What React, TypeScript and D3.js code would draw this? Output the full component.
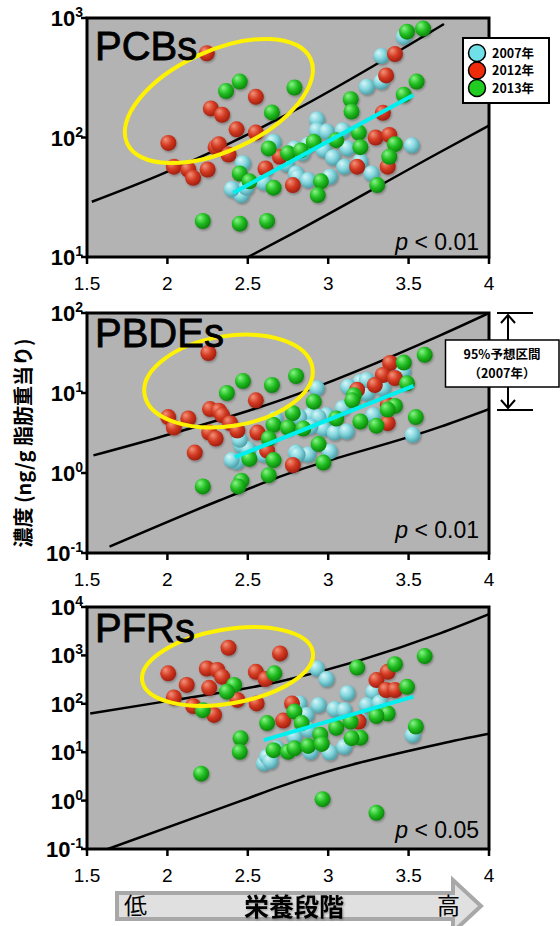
import React from 'react';
import * as d3 from 'd3';

type Pt = [number, number];

// trophic level ticks
const xTicks = [1.5, 2, 2.5, 3, 3.5, 4];
const years = ['2007年', '2012年', '2013年'];

// ---- PCBs (ng/g lipid) ----
const pcbTicks = [10, 100, 1000];
const pcb2007: Pt[] = [
  [2.66, 92], [2.47, 61], [2.42, 36], [2.46, 33], [2.49, 38], [2.40, 37], [2.60, 42], [2.74, 60],
  [2.79, 81], [2.80, 50], [3.47, 695], [3.33, 480], [3.24, 266], [3.33, 294], [2.93, 142], [2.93, 115],
  [2.99, 112], [3.09, 115], [3.12, 81], [2.97, 79], [2.875, 87], [3.03, 68], [3.10, 57], [3.20, 63],
  [3.27, 50], [3.52, 86], [2.81, 47], [2.875, 44], [3.01, 47], [2.84, 74],
];
const pcb2012: Pt[] = [
  [2.245, 507], [2.55, 219], [2.27, 175], [2.34, 155], [2.43, 117], [2.55, 110], [2.006, 90], [2.30, 83],
  [2.32, 88], [2.38, 72], [2.04, 57], [2.13, 54], [2.16, 46], [2.25, 54], [2.61, 55], [2.70, 69],
  [2.78, 40], [3.415, 500], [3.36, 331], [3.34, 161], [3.295, 100], [3.38, 105], [3.18, 57], [3.37, 57],
];
const pcb2013: Pt[] = [
  [2.45, 294], [2.365, 245], [2.79, 262], [2.65, 162], [2.63, 81], [2.45, 50], [2.51, 43], [2.66, 38],
  [2.22, 20], [2.45, 19], [2.62, 20], [2.75, 74], [3.49, 768], [3.59, 815], [3.55, 294], [3.47, 228],
  [3.14, 209], [3.145, 165], [2.91, 92], [3.05, 95], [3.19, 110], [3.20, 83], [2.83, 78], [3.415, 88],
  [3.38, 69], [2.955, 43], [2.935, 33], [3.305, 40],
];
const pcbUpper: Pt[] = [[1.53, 29], [1.95, 48.5], [2.72, 150], [3.72, 890]];
const pcbLower: Pt[] = [[2.45, 9.2], [2.73, 14.5], [3.70, 76], [4.0, 126]];
const pcbFit: Pt[] = [[2.41, 34.4], [3.53, 227]];
const pcbCircle: Pt = [2.32, 202];

// ---- PBDEs ----
const pbdeTicks = [0.1, 1, 10, 100];
const pbde2007: Pt[] = [
  [2.43, 1.38], [2.46, 2.2], [2.50, 2.0], [2.60, 1.7], [2.67, 4.8], [2.80, 1.8], [2.40, 1.45], [2.45, 2.6],
  [2.93, 11.5], [3.20, 13.8], [3.125, 12], [3.24, 10], [3.24, 14.5], [3.34, 11.5], [3.465, 18.6], [3.28, 5.3],
  [3.09, 6.5], [2.99, 5.3], [2.89, 5.3], [2.94, 5.0], [2.82, 5.0], [2.97, 3.6], [3.04, 3.2], [3.115, 3.3],
  [2.89, 3.8], [3.01, 1.85], [2.875, 1.7], [2.81, 1.7], [3.525, 3.0],
];
const pbde2012: Pt[] = [
  [2.255, 31.6], [2.55, 8.1], [2.265, 6.3], [2.32, 6.0], [2.34, 5.3], [2.005, 5.0], [2.13, 4.8], [2.04, 3.7],
  [2.39, 4.2], [2.435, 3.4], [2.26, 3.2], [2.30, 2.7], [2.56, 3.2], [2.17, 1.8], [2.62, 1.9], [2.78, 1.26],
  [3.385, 23.7], [3.34, 16.8], [3.415, 15.4], [3.29, 12.6], [3.18, 11], [3.37, 7.1], [3.37, 4.2],
];
const pbde2013: Pt[] = [
  [2.47, 14.1], [2.37, 10], [2.65, 12.6], [2.80, 16.3], [2.78, 5.6], [2.66, 4.0], [2.75, 3.7], [2.63, 2.7],
  [2.51, 1.5], [2.66, 1.45], [2.63, 0.94], [2.46, 0.8], [2.44, 0.68], [2.22, 0.68], [3.60, 30], [3.47, 24],
  [3.49, 13.2], [2.91, 7.8], [3.16, 9.4], [3.15, 8.1], [3.415, 6.9], [3.37, 6.2], [3.20, 4.4], [3.30, 3.9],
  [3.05, 4.8], [3.545, 5.0], [2.845, 3.6], [2.94, 2.3], [2.97, 1.35],
];
const pbdeUpper: Pt[] = [[1.54, 1.66], [1.95, 2.8], [2.70, 8.1], [3.70, 53], [4.0, 100]];
const pbdeLower: Pt[] = [[1.64, 0.12], [2.33, 0.46], [2.70, 0.9], [3.70, 3.8], [4.0, 6.3]];
const pbdeFit: Pt[] = [[2.42, 1.58], [3.53, 12.3]];
const pbdeCircle: Pt = [2.38, 14.1];

// ---- PFRs ----
const pfrTicks = [0.1, 1, 10, 100, 1000, 10000];
const pfr2007: Pt[] = [
  [2.60, 5.9], [2.62, 8.1], [2.64, 6.5], [2.68, 12], [2.79, 21], [2.93, 537], [2.99, 324], [3.12, 166],
  [3.28, 178], [3.24, 94], [3.32, 105], [2.94, 94], [3.04, 78], [3.10, 74], [2.82, 102], [2.865, 59],
  [2.875, 29], [2.89, 10.2], [3.01, 9.8], [3.10, 12.9], [3.525, 22.6], [3.20, 46],
];
const pfr2012: Pt[] = [
  [2.38, 1440], [2.70, 1100], [2.005, 427], [2.245, 537], [2.31, 500], [2.34, 363], [2.55, 457], [2.61, 324],
  [2.12, 245], [2.26, 214], [2.04, 135], [2.435, 120], [2.555, 102], [2.16, 90], [2.29, 59], [2.72, 45],
  [2.775, 102], [3.37, 457], [3.30, 309], [3.36, 193], [3.415, 193], [3.19, 43],
];
const pfr2013: Pt[] = [
  [2.665, 427], [2.415, 245], [2.37, 178], [2.22, 74], [2.62, 40], [2.79, 69], [2.455, 19.5], [2.45, 10.2],
  [2.66, 11], [2.75, 10.2], [2.21, 3.6], [3.60, 970], [3.415, 660], [3.18, 560], [3.49, 224], [3.545, 34],
  [3.37, 63], [3.30, 56], [3.20, 20], [3.145, 19.5], [3.14, 43], [3.05, 32], [2.95, 23], [2.835, 40],
  [2.79, 12], [2.875, 13.5], [2.96, 14.8], [2.965, 1.07], [3.30, 0.56],
];
const pfrUpper: Pt[] = [[1.52, 63], [1.95, 107], [2.70, 288], [3.70, 2880], [4.0, 7100]];
const pfrLower: Pt[] = [[1.63, 0.1], [2.47, 1.02], [2.70, 1.95], [3.70, 15], [4.0, 24]];
const pfrFit: Pt[] = [[2.60, 17.8], [3.53, 141]];
const pfrCircle: Pt = [2.374, 590];

const X0 = 87, X1 = 489;
const FONT = '"Liberation Sans", Arial, sans-serif';
const JP = '"Noto Sans CJK JP", sans-serif';
const grads = ['gc', 'gr', 'gg'];
const legendFill = ['#6fe0e8', '#ee2a08', '#1fcc1f'];

const panels = [
  { name: 'PCBs', top: 18, bottom: 257, titleY: 60, domain: [10, 1000], ticks: pcbTicks,
    series: [pcb2007, pcb2012, pcb2013], upper: pcbUpper, lower: pcbLower, fit: pcbFit,
    circle: pcbCircle, rx: 101, ry: 50, rot: -24.8, p: '0.01', pY: 250 },
  { name: 'PBDEs', top: 313, bottom: 553, titleY: 347, domain: [0.1, 100], ticks: pbdeTicks,
    series: [pbde2007, pbde2012, pbde2013], upper: pbdeUpper, lower: pbdeLower, fit: pbdeFit,
    circle: pbdeCircle, rx: 85, ry: 45, rot: -9, p: '0.01', pY: 538 },
  { name: 'PFRs', top: 607, bottom: 849, titleY: 642, domain: [0.1, 10000], ticks: pfrTicks,
    series: [pfr2007, pfr2012, pfr2013], upper: pfrUpper, lower: pfrLower, fit: pfrFit,
    circle: pfrCircle, rx: 86.5, ry: 37, rot: -9.7, p: '0.05', pY: 838 },
];

function Panel({ cfg, idx }: { cfg: any; idx: number }) {
  const x = d3.scaleLinear().domain([1.5, 4]).range([X0, X1]);
  const y = d3.scaleLog().domain(cfg.domain).range([cfg.bottom, cfg.top]);
  const line = d3.line<Pt>().x(d => x(d[0])).y(d => y(d[1])).curve(d3.curveMonotoneX);
  const clip = 'clip' + idx;
  const cx = x(cfg.circle[0]), cy = y(cfg.circle[1]);
  return (
    <g>
      <clipPath id={clip}>
        <rect x={X0} y={cfg.top} width={X1 - X0} height={cfg.bottom - cfg.top} />
      </clipPath>
      <rect x={X0} y={cfg.top} width={X1 - X0} height={cfg.bottom - cfg.top} fill="#b3b3b3" />
      <g clipPath={`url(#${clip})`}>
        <path d={line(cfg.upper) || ''} fill="none" stroke="#000" strokeWidth={2.5} />
        <path d={line(cfg.lower) || ''} fill="none" stroke="#000" strokeWidth={2.5} />
        <g filter="url(#sh)">
          {cfg.series.map((s: Pt[], i: number) =>
            s.map((d, j) => (
              <circle key={i + '-' + j} cx={x(d[0])} cy={y(d[1])} r={8} fill={`url(#${grads[i]})`} />
            ))
          )}
        </g>
        <path d={line(cfg.fit) || ''} fill="none" stroke="#00f0f0" strokeWidth={4} />
        <ellipse cx={cx} cy={cy} rx={cfg.rx} ry={cfg.ry} transform={`rotate(${cfg.rot} ${cx} ${cy})`}
          fill="none" stroke="#fff200" strokeWidth={4} />
      </g>
      <rect x={X0} y={cfg.top} width={X1 - X0} height={cfg.bottom - cfg.top} fill="none" stroke="#000" strokeWidth={3} />
      {xTicks.map(t => (
        <g key={'x' + t}>
          <line x1={x(t)} x2={x(t)} y1={cfg.bottom} y2={cfg.bottom + 7} stroke="#000" strokeWidth={2.5} />
          <text x={x(t)} y={cfg.bottom + 33} textAnchor="middle" fontSize={19} fontFamily={FONT}>{t}</text>
        </g>
      ))}
      {cfg.ticks.map((t: number) => (
        <g key={'y' + t}>
          <line x1={X0 - 6} x2={X0} y1={y(t)} y2={y(t)} stroke="#000" strokeWidth={2.5} />
          <text x={83} y={y(t) + 8} textAnchor="end" fontSize={22} fontWeight="bold" fontFamily={FONT}>
            10<tspan dy={-9} fontSize={14}>{Math.round(Math.log10(t))}</tspan>
          </text>
        </g>
      ))}
      <text x={95} y={cfg.titleY} fontSize={40} fontFamily={FONT} stroke="#000" strokeWidth={0.8}>{cfg.name}</text>
      <text x={479} y={cfg.pY} textAnchor="end" fontSize={23} fontFamily={FONT}>
        <tspan fontStyle="italic">p</tspan> &lt; {cfg.p}
      </text>
    </g>
  );
}

const sphere = (id: string, light: string, base: string, dark: string) => (
  <radialGradient id={id} cx="40%" cy="38%" r="62%" fx="32%" fy="28%">
    <stop offset="0%" stopColor={light} />
    <stop offset="55%" stopColor={base} />
    <stop offset="100%" stopColor={dark} />
  </radialGradient>
);

export default function App() {
  return (
    <svg width={560} height={926} style={{ position: 'absolute', left: 0, top: 0 }}>
      <defs>
        {sphere('gc', '#d6f7f8', '#84d6de', '#4d9fa8')}
        {sphere('gr', '#f2937a', '#d33a22', '#a01f10')}
        {sphere('gg', '#8af58a', '#22bf22', '#0c850c')}
        <filter id="sh" x="-20%" y="-20%" width="140%" height="140%">
          <feDropShadow dx="1" dy="1.5" stdDeviation="1" floodOpacity="0.3" />
        </filter>
        <filter id="tsh">
          <feDropShadow dx="1" dy="1" stdDeviation="1" floodOpacity="0.35" />
        </filter>
      </defs>
      <rect width={560} height={926} fill="#fff" />
      {panels.map((p, i) => <Panel key={p.name} cfg={p} idx={i} />)}

      {/* legend */}
      <rect x={463} y={38} width={86} height={65} fill="#fff" stroke="#000" strokeWidth={2} />
      {years.map((yr, i) => (
        <g key={yr}>
          <circle cx={477} cy={53 + i * 17.5} r={8.5} fill={legendFill[i]} stroke="#000" strokeWidth={1.5} />
          <text x={492} y={57.5 + i * 17.5} fontSize={12.5} fontWeight="bold" fontFamily={JP}>{yr}</text>
        </g>
      ))}

      {/* 95% prediction interval note */}
      <line x1={497} x2={533} y1={313} y2={313} stroke="#000" strokeWidth={2} />
      <line x1={497} x2={533} y1={410} y2={410} stroke="#000" strokeWidth={2} />
      <line x1={508} x2={508} y1={315} y2={340} stroke="#000" strokeWidth={2} />
      <line x1={508} x2={508} y1={387} y2={408} stroke="#000" strokeWidth={2} />
      <path d="M501,323 L508,315 L515,323 M501,400 L508,408 L515,400" fill="none" stroke="#000" strokeWidth={2} />
      <rect x={445.5} y={340} width={113.5} height={47} fill="#fff" stroke="#000" strokeWidth={1.5} />
      <text x={502} y={359} textAnchor="middle" fontSize={12.5} fontWeight="bold" fontFamily={JP}>95%予想区間</text>
      <text x={502} y={378} textAnchor="middle" fontSize={12.5} fontWeight="bold" fontFamily={JP}>（2007年）</text>

      {/* y axis title */}
      <text transform="translate(31,443) rotate(-90)" textAnchor="middle" fontSize={20} fontWeight="bold" fontFamily={JP}>
        濃度 (ng/g 脂肪重当り)
      </text>

      {/* trophic level arrow */}
      <polygon points="117,893 453,893 453,880 481,906 453,932 453,919 117,919"
        fill="#e0e0e0" stroke="#a8a8a8" strokeWidth={4} strokeLinejoin="miter" />
      <text x={124} y={914} fontSize={23} fontFamily={JP}>低</text>
      <text x={294} y={916} textAnchor="middle" fontSize={25} fontWeight="bold" fontFamily={JP} filter="url(#tsh)">栄養段階</text>
      <text x={437} y={914} fontSize={23} fontFamily={JP}>高</text>
    </svg>
  );
}
